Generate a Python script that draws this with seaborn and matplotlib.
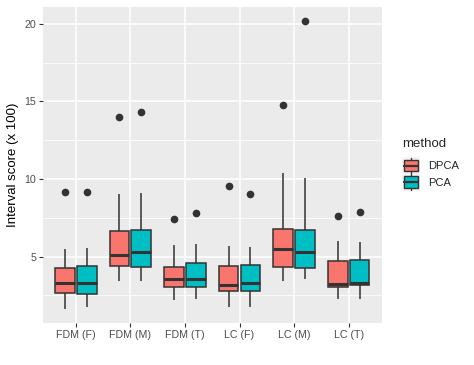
import numpy as np
import pandas as pd
import matplotlib
matplotlib.use("Agg")
import matplotlib.pyplot as plt
from matplotlib.patches import Rectangle
from matplotlib.lines import Line2D
from matplotlib.legend_handler import HandlerBase
import seaborn as sns

categories = ["FDM (F)", "FDM (M)", "FDM (T)", "LC (F)", "LC (M)", "LC (T)"]
methods = ["DPCA", "PCA"]
palette = {"DPCA": "#F8766D", "PCA": "#00BFC4"}

# five-number summaries: low whisker, Q1, median, Q3, high whisker, outlier
dpca_low = [1.65, 3.42, 2.20, 1.78, 3.46, 2.29]
dpca_q1 = [2.67, 4.42, 3.06, 2.78, 4.34, 3.06]
dpca_med = [3.31, 5.13, 3.53, 3.14, 5.51, 3.21]
dpca_q3 = [4.27, 6.67, 4.34, 4.38, 6.78, 4.70]
dpca_high = [5.50, 9.04, 5.77, 5.71, 10.37, 5.98]
dpca_out = [9.19, 14.00, 7.44, 9.55, 14.74, 7.63]

pca_low = [1.75, 3.42, 2.29, 1.78, 3.53, 2.29]
pca_q1 = [2.60, 4.31, 3.06, 2.76, 4.27, 3.14]
pca_med = [3.31, 5.28, 3.53, 3.27, 5.30, 3.31]
pca_q3 = [4.38, 6.73, 4.62, 4.49, 6.69, 4.76]
pca_high = [5.56, 9.12, 5.81, 5.62, 10.04, 5.92]
pca_out = [9.19, 14.31, 7.84, 9.04, 20.15, 7.90]


def sample(low, q1, med, q3, high, out):
    # 9 values whose linear percentiles give exactly q1 / median / q3
    return [low, q1, q1, med, med, q3, q3, high, out]


rows = []
for i, cat in enumerate(categories):
    for m, (lo, a, b, c, hi, o) in zip(methods, [
        (dpca_low, dpca_q1, dpca_med, dpca_q3, dpca_high, dpca_out),
        (pca_low, pca_q1, pca_med, pca_q3, pca_high, pca_out),
    ]):
        for v in sample(lo[i], a[i], b[i], c[i], hi[i], o[i]):
            rows.append({"group": cat, "method": m, "score": v})
df = pd.DataFrame(rows)

sns.set_theme(style="darkgrid")
plt.rcParams["font.family"] = ["Liberation Sans", "DejaVu Sans"]

fig = plt.figure(figsize=(4.74, 3.65), dpi=100)
ax = fig.add_axes([43 / 474, 42 / 365, 338.5 / 474, 316 / 365])
ax.set_facecolor("#EBEBEB")

edge = "#333333"
sns.boxplot(
    data=df, x="group", y="score", hue="method", order=categories,
    hue_order=methods, palette=palette, width=0.8, gap=0.1,
    linecolor=edge, linewidth=1.1, showcaps=False, saturation=1,
    flierprops=dict(marker="o", markerfacecolor=edge, markeredgecolor=edge,
                    markersize=4.5),
    medianprops=dict(linewidth=2.2, color=edge),
    legend=False, ax=ax,
)

y_all = df["score"]
span = y_all.max() - y_all.min()
ax.set_ylim(y_all.min() - 0.05 * span, y_all.max() + 0.05 * span)
ax.set_xlim(-0.6, len(categories) - 0.4)
ax.set_yticks([5, 10, 15, 20])
ax.set_yticks([2.5, 7.5, 12.5, 17.5], minor=True)

ax.grid(True, which="major", color="white", linewidth=1.1)
ax.grid(True, which="minor", axis="y", color="white", linewidth=0.55)
ax.set_axisbelow(True)
for s in ax.spines.values():
    s.set_visible(False)

ax.tick_params(axis="both", which="major", length=3, width=0.8, color=edge,
               labelsize=7.7, labelcolor="#4D4D4D", pad=2)
ax.tick_params(axis="both", which="minor", length=0)
ax.tick_params(axis="x", bottom=True)
ax.tick_params(axis="y", left=True)
ax.set_xlabel("")
ax.set_ylabel("Interval score (x 100)", fontsize=9.5, color="black", labelpad=4)


class BoxKey(HandlerBase):
    # ggplot-like key: box with median line and short whisker stubs
    def create_artists(self, legend, orig, xd, yd, w, h, fs, trans):
        c = orig.get_facecolor()
        x0, y0 = -xd, -yd
        bg = Rectangle((x0, y0), w, h, facecolor="#F2F2F2",
                       edgecolor="none", transform=trans)
        box = Rectangle((x0 + w * 0.1, y0 + h * 0.15), w * 0.8, h * 0.7,
                        facecolor=c, edgecolor=edge, linewidth=1.0,
                        transform=trans)
        med = Line2D([x0 + w * 0.1, x0 + w * 0.9], [y0 + h / 2] * 2,
                     color=edge, linewidth=1.6, transform=trans)
        wt = Line2D([x0 + w / 2] * 2, [y0 + h * 0.85, y0 + h * 0.97],
                    color=edge, linewidth=1.0, transform=trans)
        wb = Line2D([x0 + w / 2] * 2, [y0 + h * 0.03, y0 + h * 0.15],
                    color=edge, linewidth=1.0, transform=trans)
        return [bg, box, med, wt, wb]


handles = [Rectangle((0, 0), 1, 1, facecolor=palette[m]) for m in methods]
leg = fig.legend(handles, methods, handler_map={Rectangle: BoxKey()},
                 title="method", loc="upper left",
                 bbox_to_anchor=(400 / 474, 1 - 136 / 365), frameon=False,
                 fontsize=8, title_fontsize=9.5, handlelength=1.6,
                 handleheight=1.95, handletextpad=0.7, labelspacing=0.0,
                 borderpad=0.2, borderaxespad=0)
leg._legend_box.align = "left"
leg._legend_box.sep = 5

fig.savefig("out.png", dpi=100)
